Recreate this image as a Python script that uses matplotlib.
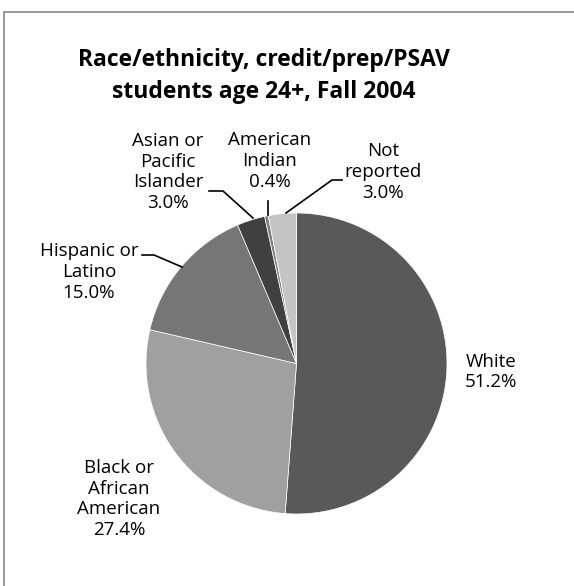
import matplotlib
matplotlib.use("Agg")
import matplotlib.pyplot as plt
from matplotlib.patches import Rectangle

labels = ["White", "Black or\nAfrican\nAmerican", "Hispanic or\nLatino",
          "Asian or\nPacific\nIslander", "American\nIndian", "Not\nreported"]
shares = [51.2, 27.4, 15.0, 3.0, 0.4, 3.0]
colors = ["#595959", "#a0a0a0", "#767676", "#404040", "#808080", "#c4c4c4"]

# label block centres and leader lines, in pixels from top-left
label_pos = [(491, 372), (119, 499), (89, 272), (168, 172), (270, 161), (383, 172)]
leaders = [None, None,
           [(142, 255), (154, 255), (182, 267)],
           [(209, 191), (223, 191), (253, 218)],
           [(268, 201), (268, 215)],
           [(342, 180), (332, 180), (286, 213)]]

W, H = 574, 586

def main():
    fig = plt.figure(figsize=(W / 100, H / 100), dpi=100)
    ax = fig.add_axes([0, 0, 1, 1])

    ax.pie(shares, colors=colors, startangle=90, counterclock=False,
           center=(296.5, H - 363.5), radius=150.5,
           wedgeprops=dict(edgecolor="white", linewidth=0.5))

    ax.set_xlim(0, W)
    ax.set_ylim(0, H)
    ax.axis("off")

    # chart frame: only top and left edges fall inside the image
    ax.add_patch(Rectangle((4, -20), W + 30, H - 12 + 20, fill=False,
                           edgecolor="#868686", linewidth=1.2))

    ax.text(263.5, H - 76, "Race/ethnicity, credit/prep/PSAV\nstudents age 24+, Fall 2004",
            ha="center", va="center", fontsize=16.5, fontweight="bold",
            family="Open Sans", linespacing=1.45)

    for lab, val, (x, y) in zip(labels, shares, label_pos):
        ax.text(x, H - y, f"{lab}\n{val:.1f}%", ha="center", va="center",
                fontsize=13.5, family="Open Sans", linespacing=1.2)

    for pts in leaders:
        if pts is None:
            continue
        xs = [p[0] for p in pts]
        ys = [H - p[1] for p in pts]
        ax.plot(xs, ys, color="black", linewidth=1.2)

    fig.savefig("out.png", dpi=100)

if __name__ == "__main__":
    main()
